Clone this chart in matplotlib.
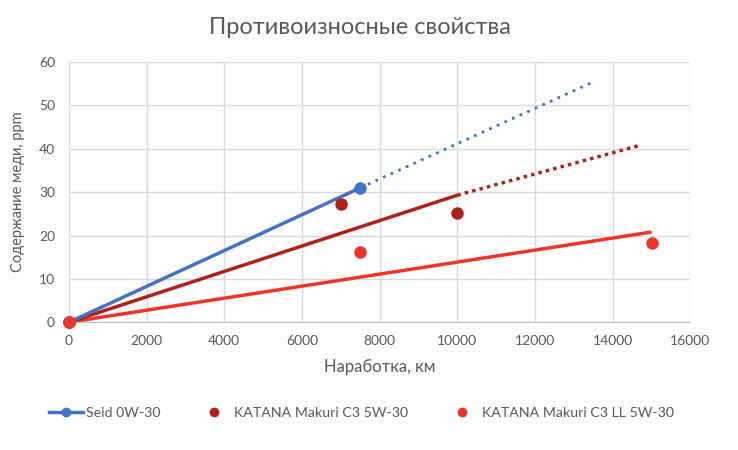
import matplotlib
matplotlib.use('Agg')
from matplotlib import pyplot as plt
from matplotlib.lines import Line2D

# точки измерений
seid_x = [0, 7500]
seid_y = [0, 31]
katana_x = [0, 7000, 10000]
katana_y = [0, 27.2, 25.1]
katana_ll_x = [0, 7500, 15000]
katana_ll_y = [0, 16.2, 18.2]

# линии тренда (сплошная часть и прогноз точками)
seid_fc_x = [7500, 13540]
seid_fc_y = [31, 55.6]
katana_tr_x = [0, 10000]
katana_tr_y = [0, 29.3]
katana_fc_x = [10000, 14700]
katana_fc_y = [29.3, 40.8]
katana_ll_tr_x = [0, 15000]
katana_ll_tr_y = [0, 20.8]

labels = ['Seid 0W-30', 'KATANA Makuri C3 5W-30', 'KATANA Makuri C3 LL 5W-30']
c_blue = '#4472C4'
c_dred = '#B0211A'
c_red = '#EE3527'
grey = '#595959'

plt.rcParams['font.family'] = ['Lato', 'DejaVu Sans']

fig = plt.figure(figsize=(7.38, 4.5), dpi=100)
ax = fig.add_axes([0.0935, 0.284, 0.842, 0.578])

ax.plot(katana_ll_tr_x, katana_ll_tr_y, color=c_red, lw=2.5, solid_capstyle='butt', zorder=2)
ax.plot(katana_tr_x, katana_tr_y, color=c_dred, lw=2.5, solid_capstyle='butt', zorder=2)
ax.plot(katana_fc_x, katana_fc_y, color=c_dred, lw=2.5, ls=(0, (1, 1.2)), zorder=2)
ax.plot(seid_fc_x, seid_fc_y, color=c_blue, lw=2.0, ls=(0, (1, 2)), zorder=2)
ax.plot(seid_x, seid_y, color=c_blue, lw=2.5, marker='o', ms=8, zorder=3, clip_on=False)
ax.plot(katana_x, katana_y, ls='none', color=c_dred, marker='o', ms=8, zorder=4, clip_on=False)
ax.plot(katana_ll_x, katana_ll_y, ls='none', color=c_red, marker='o', ms=8, zorder=5, clip_on=False)

ax.set_xlim(0, 16000)
ax.set_ylim(0, 60)
ax.set_xticks(range(0, 16001, 2000))
ax.set_yticks(range(0, 61, 10))
ax.grid(True, color='#D9D9D9', lw=1)
ax.set_axisbelow(True)
for s in ['top', 'right', 'left']:
    ax.spines[s].set_visible(False)
ax.spines['bottom'].set_color('#BFBFBF')
ax.tick_params(length=0, labelsize=10, colors=grey, pad=9)
ax.tick_params(axis='y', pad=10)

ax.set_xlabel('Наработка, км', fontsize=12, color=grey, labelpad=9)
ax.set_ylabel('Содержание меди, ppm', fontsize=10.5, color=grey, labelpad=10)
fig.text(0.488, 0.938, 'Противоизносные свойства', ha='center', va='center',
         fontsize=17, color=grey)

handles = [
    Line2D([], [], color=c_blue, lw=2.5, marker='o', ms=6),
    Line2D([], [], color=c_dred, ls='none', marker='o', ms=6),
    Line2D([], [], color=c_red, ls='none', marker='o', ms=6),
]
fig.legend(handles, labels, loc='center', bbox_to_anchor=(0.49, 0.082), ncol=3,
           frameon=False, fontsize=10.2, labelcolor=grey, columnspacing=2.6,
           handlelength=2.4, handletextpad=0.2)

plt.savefig('out.png', dpi=100)
